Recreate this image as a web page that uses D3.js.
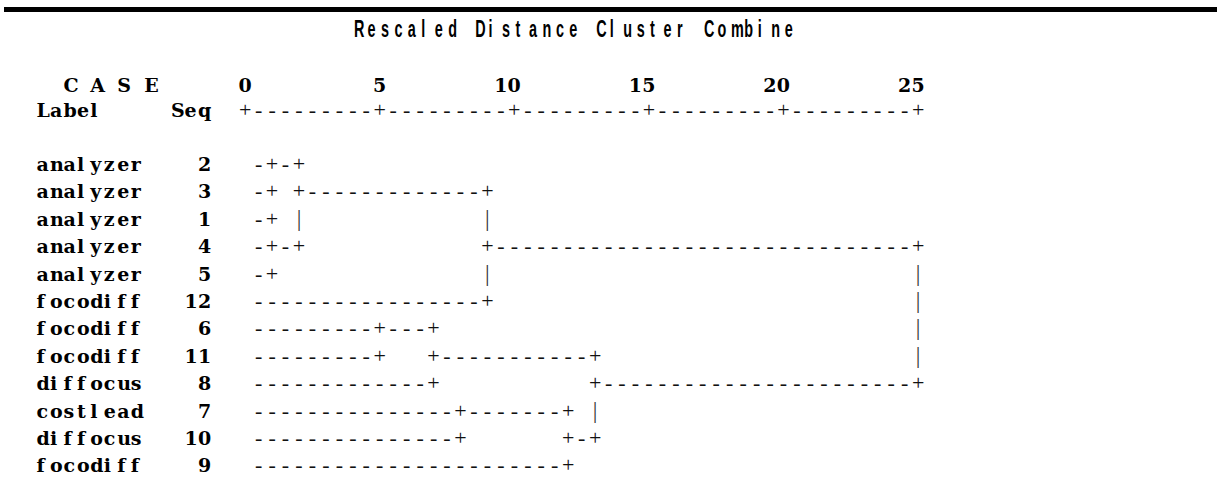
<!DOCTYPE html>
<html>
<head>
<meta charset="utf-8">
<script src="https://cdn.jsdelivr.net/npm/d3@7"></script>
<style>
  body { margin: 0; background: #fff; }
</style>
</head>
<body>
<div id="chartDiv"></div>
<script>

// case rows, top to bottom
var caseLabels = ["analyzer", "analyzer", "analyzer", "analyzer", "analyzer", "focodiff",
                  "focodiff", "focodiff", "diffocus", "costlead", "diffocus", "focodiff"];
var caseSeq = [2, 3, 1, 4, 5, 12, 6, 11, 8, 7, 10, 9];

// agglomeration schedule: case a joins case b at rescaled distance
var mergeA = [1, 2, 1, 1, 6, 6, 7, 1, 7, 6, 1];
var mergeB = [4, 3, 5, 2, 11, 8, 10, 12, 9, 7, 6];
var mergeDist = [1, 1, 1, 2, 5, 7, 8, 9, 12, 13, 25];

var tickValues = [0, 5, 10, 15, 20, 25];
var titleText = "Rescaled Distance Cluster Combine";

var W = 1217, H = 479;
var pitch = 13.46;       // one character cell
var firstCol = 15;       // grid column where distance 0 sits

var svg = d3.select("#chartDiv").append("svg")
    .attr("width", W)
    .attr("height", H);

// grid column -> left edge of the cell
var gx = d3.scaleLinear().domain([0, 1]).range([36.5, 36.5 + pitch]);
// rescaled distance -> dendrogram column (two columns per unit)
var dcol = d3.scaleLinear().domain([0, 25]).range([0, 50]);
// row index -> text centre
var rowY = d3.scaleLinear().domain([0, caseSeq.length - 1]).range([164, 164 + 27.4 * (caseSeq.length - 1)]);
var headY = 85, axisY = 110;

var nCols = dcol(25) + 1;

// ---- build the character grid of the dendrogram
var grid = caseSeq.map(function() { return d3.range(nCols).map(function() { return " "; }); });
var rowOf = {};
caseSeq.forEach(function(s, i) { rowOf[s] = i; });

var owner = {};   // case -> cluster
caseSeq.forEach(function(s) {
  owner[s] = {rep: rowOf[s], start: 0, leaf: true, members: [s]};
});

function drawLine(cl, e) {
  var row = grid[cl.rep];
  if (cl.leaf) {
    for (var c = 1; c < e; c++) row[c] = "-";
  } else {
    row[cl.start] = "+";
    for (var c = cl.start + 1; c < e; c++) row[c] = "-";
  }
  row[e] = "+";
}

mergeDist.forEach(function(d, i) {
  var A = owner[mergeA[i]], B = owner[mergeB[i]];
  var e = Math.round(dcol(d));
  drawLine(A, e);
  drawLine(B, e);
  var lo = Math.min(A.rep, B.rep), hi = Math.max(A.rep, B.rep);
  for (var r = lo + 1; r < hi; r++) {
    if (grid[r][e] == " ") grid[r][e] = "|";
  }
  var merged = {rep: Math.floor((lo + hi) / 2), start: e, leaf: false,
                members: A.members.concat(B.members)};
  merged.members.forEach(function(m) { owner[m] = merged; });
});

// axis row
var axisChars = d3.range(nCols).map(function(c) {
  return tickValues.indexOf(c / 2) >= 0 ? "+" : "-";
});

// ---- top rule
svg.append("rect")
    .attr("x", 4).attr("y", 7)
    .attr("width", W - 4).attr("height", 5)
    .attr("fill", "#000");

// ---- title, one glyph per cell, condensed
var title = svg.append("g").attr("class", "title");
titleText.split("").forEach(function(ch, j) {
  if (ch == " ") return;
  title.append("text")
      .attr("transform", "translate(" + (354 + j * pitch) + ",37) scale(0.6,1)")
      .style("font-family", "Liberation Sans, Arial, sans-serif")
      .style("font-size", "24px")
      .style("font-weight", "bold")
      .attr("fill", "#000")
      .text(ch);
});

var labelFont = "DejaVu Serif, serif";
var lineFont = "Liberation Serif, Times New Roman, serif";

function cellText(g, str, k0, y) {
  str.split("").forEach(function(ch, j) {
    if (ch == " ") return;
    g.append("text")
        .attr("x", gx(k0 + j))
        .attr("y", y + 7)
        .style("font-family", labelFont)
        .style("font-size", "19px")
        .style("font-weight", "bold")
        .attr("fill", "#000")
        .text(ch);
  });
}

var head = svg.append("g").attr("class", "header");
cellText(head, "C A S E", 2, headY);
cellText(head, "Label", 0, axisY);
cellText(head, "Seq", 10, axisY);

// tick labels, right aligned on the tick column
tickValues.forEach(function(t) {
  var s = String(t);
  cellText(head, s, firstCol + dcol(t) - (s.length - 1), headY);
});

// case labels and sequence numbers
var cases = svg.append("g").attr("class", "cases");
caseSeq.forEach(function(s, i) {
  cellText(cases, caseLabels[i], 0, rowY(i));
  var str = String(s);
  cellText(cases, str, 12 - (str.length - 1), rowY(i));
});

// ---- dendrogram glyphs
var tree = svg.append("g").attr("class", "tree");

function drawChars(chars, y) {
  chars.forEach(function(ch, c) {
    if (ch == " ") return;
    tree.append("text")
        .attr("x", gx(firstCol + c) + pitch / 2)
        .attr("y", y + 7)
        .attr("text-anchor", "middle")
        .style("font-family", lineFont)
        .style("font-size", ch == "|" ? "23px" : "22px")
        .attr("fill", ch == "|" ? "#333" : "#111")
        .text(ch);
  });
}

drawChars(axisChars, axisY);
grid.forEach(function(row, i) { drawChars(row, rowY(i)); });

</script>
</body>
</html>
